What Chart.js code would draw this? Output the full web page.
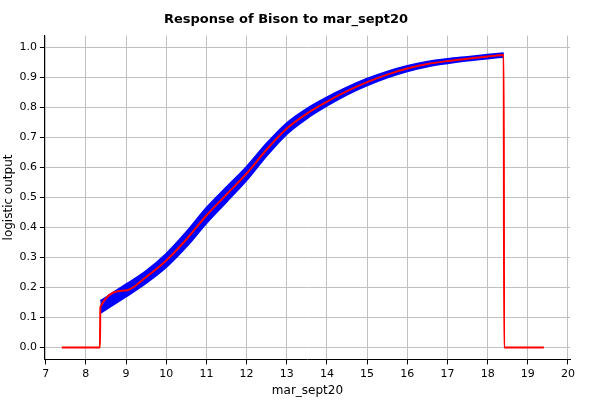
<!DOCTYPE html>
<html>
<head>
<meta charset="utf-8">
<script src="https://cdn.jsdelivr.net/npm/chart.js@4"></script>
<style>
  body { margin: 0; background: #fff; }
  #wrap { width: 600px; height: 400px; }
</style>
</head>
<body>
<div id="wrap"><canvas id="c"></canvas></div>
<script>
// valores
const xs = [7.4, 8.35, 8.36, 9, 9.5, 10, 10.5, 11, 11.5, 12, 12.5, 13, 13.5, 14, 14.5, 15, 15.5, 16, 16.5, 17, 17.5, 18, 18.4, 18.41, 19.4];
const ys = [0, 0, 0.135, 0.19, 0.235, 0.29, 0.36, 0.44, 0.51, 0.58, 0.66, 0.73, 0.78, 0.82, 0.855, 0.885, 0.91, 0.93, 0.945, 0.955, 0.963, 0.97, 0.975, 0, 0];
const halfBand = [0, 0, 0.02, 0.02, 0.02, 0.022, 0.024, 0.025, 0.024, 0.022, 0.02, 0.018, 0.016, 0.014, 0.012, 0.011, 0.01, 0.009, 0.008, 0.007, 0.006, 0.006, 0.006, 0, 0];
const xTicks = [7, 8, 9, 10, 11, 12, 13, 14, 15, 16, 17, 18, 19, 20];

// banda solo donde la curva es positiva
const bandIdx = xs.map((x, i) => i).filter(i => i >= 2 && i <= 22);
const upper = bandIdx.map(i => ({ x: xs[i], y: ys[i] + halfBand[i] }));
const lower = bandIdx.map(i => ({ x: xs[i], y: ys[i] - halfBand[i] }));
const mean = xs.map((x, i) => ({ x: x, y: ys[i] }));

new Chart(document.getElementById('c'), {
  type: 'line',
  data: {
    datasets: [
      { data: upper, order: 2, borderColor: '#0000ff', borderWidth: 2, pointRadius: 0, cubicInterpolationMode: 'monotone', fill: false },
      { data: lower, order: 1, borderColor: '#0000ff', borderWidth: 2, pointRadius: 0, cubicInterpolationMode: 'monotone', fill: '-1', backgroundColor: '#0000ff' },
      { data: mean, order: 0, borderColor: '#ff0000', borderWidth: 2, pointRadius: 0, cubicInterpolationMode: 'monotone' }
    ]
  },
  options: {
    responsive: true,
    maintainAspectRatio: false,
    animation: false,
    layout: { padding: { left: 2, right: 30, top: 4, bottom: 2 } },
    plugins: {
      legend: { display: false },
      title: {
        display: true,
        text: 'Response of Bison to mar_sept20',
        color: '#000',
        font: { family: 'DejaVu Sans', size: 13, weight: 'bold' },
        padding: { top: 8, bottom: 8 }
      }
    },
    scales: {
      x: {
        type: 'linear',
        min: 6.98, max: 20.05,
        afterBuildTicks: axis => { axis.ticks = xTicks.map(v => ({ value: v })); },
        ticks: { color: '#000', font: { family: 'DejaVu Sans', size: 11 } },
        grid: { color: '#c0c0c0', tickColor: '#000', tickLength: 5 },
        border: { color: '#000' },
        title: { display: true, text: 'mar_sept20', color: '#000', font: { family: 'DejaVu Sans', size: 12 }, padding: 0 }
      },
      y: {
        min: -0.04, max: 1.04,
        afterBuildTicks: axis => {
          const t = [];
          for (let i = 0; i <= 10; i++) t.push({ value: i / 10 });
          axis.ticks = t;
        },
        ticks: { color: '#000', font: { family: 'DejaVu Sans', size: 11 }, callback: v => v.toFixed(1) },
        grid: { color: '#c0c0c0', tickColor: '#000', tickLength: 5 },
        border: { color: '#000' },
        title: { display: true, text: 'logistic output', color: '#000', font: { family: 'DejaVu Sans', size: 12 }, padding: 0 }
      }
    }
  }
});
</script>
</body>
</html>
